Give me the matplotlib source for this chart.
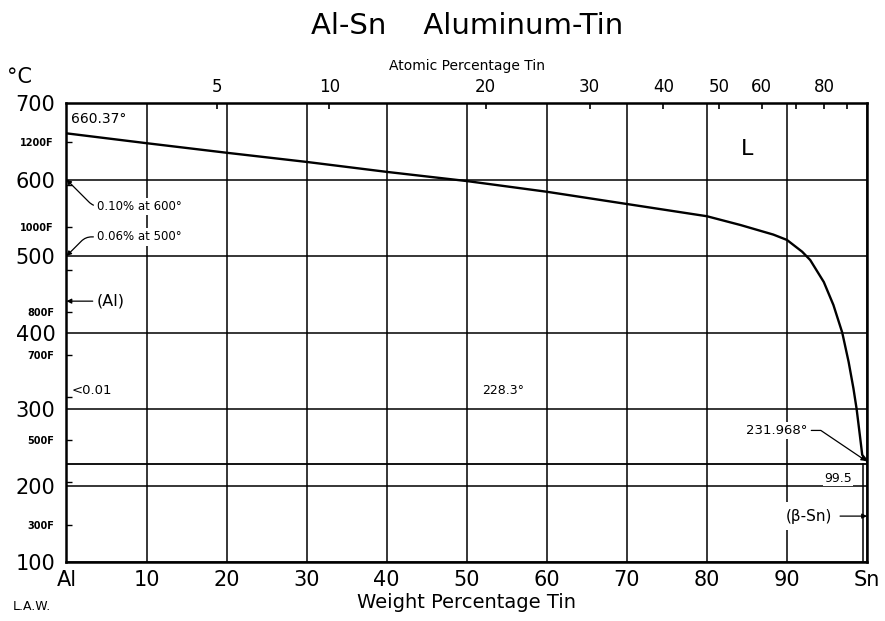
import numpy as np
import matplotlib
matplotlib.use('Agg')
import matplotlib.pyplot as plt

plt.rcParams['font.family'] = ['DejaVu Sans']

# Liquidus of the Al-Sn system (weight % Sn, deg C)
liq_wt = [0, 10, 20, 30, 40, 50, 60, 70, 80, 84.2, 88.3, 90, 91.9, 92.9, 94.6,
          95.8, 96.9, 97.7, 98.3, 98.7, 99.1, 99.4, 100]
liq_T = [660.37, 647.5, 635, 623, 610, 598, 584, 568, 552, 540.5, 528, 521, 505.6, 494.8, 466,
         436, 400, 361.6, 327, 300, 266, 240, 231.968]

eutectic_T = 228.3
eutectic_wt = [0, 100]
sn_solvus_wt = 99.5
al_melt = 660.37
sn_melt = 231.968

wt_ticks = [0, 10, 20, 30, 40, 50, 60, 70, 80, 90, 100]
wt_labels = ['Al', '10', '20', '30', '40', '50', '60', '70', '80', '90', 'Sn']
temp_ticks = [100, 200, 300, 400, 500, 600, 700]

at_ticks = [5, 10, 20, 30, 40, 50, 60, 70, 80, 90]
at_labels = ['5', '10', '20', '30', '40', '50', '60', '', '80', '']

f_ticks = [300, 400, 500, 600, 700, 800, 900, 1000, 1100, 1200]
f_labeled = [300, 500, 700, 800, 1000, 1200]

M_AL = 26.98
M_SN = 118.71


def wt_to_at(w):
    w = np.asarray(w, dtype=float)
    a = w / M_SN
    b = (100 - w) / M_AL
    return 100 * a / (a + b)


def at_to_wt(x):
    x = np.asarray(x, dtype=float)
    a = x * M_SN
    b = (100 - x) * M_AL
    return 100 * a / (a + b)


def c_to_f(c):
    return np.asarray(c, dtype=float) * 9 / 5 + 32


def f_to_c(f):
    return (np.asarray(f, dtype=float) - 32) * 5 / 9


fig = plt.figure(figsize=(8.85, 6.21), dpi=100)
ax = fig.add_axes([0.0751, 0.0950, 0.9046, 0.7391])

ax.set_xlim(0, 100)
ax.set_ylim(100, 700)
ax.set_xticks(wt_ticks)
ax.set_xticklabels(wt_labels)
ax.set_yticks(temp_ticks)
ax.tick_params(axis='both', length=0, labelsize=15)
ax.tick_params(axis='x', pad=6)
ax.tick_params(axis='y', pad=8)
ax.grid(True, color='black', lw=1.1)
for sp in ax.spines.values():
    sp.set_linewidth(1.8)

# phase boundaries
ax.plot(liq_wt, liq_T, color='black', lw=1.7, zorder=3)
ax.plot(eutectic_wt, [eutectic_T, eutectic_T], color='black', lw=1.3, zorder=3)
ax.plot([sn_solvus_wt, sn_solvus_wt], [eutectic_T, 100], color='black', lw=1.1, zorder=3)

# atomic percent scale on top
top = ax.secondary_xaxis('top', functions=(wt_to_at, at_to_wt))
top.set_xticks(at_ticks)
top.set_xticklabels(at_labels)
top.tick_params(direction='in', length=4, width=1.2, labelsize=12, pad=5)
top.set_xlabel('Atomic Percentage Tin', fontsize=10, labelpad=6)

# fahrenheit ticks on the left spine
fax = ax.secondary_yaxis('left', functions=(c_to_f, f_to_c))
fax.set_yticks(f_ticks)
fax.set_yticklabels([f'{f}F' if f in f_labeled else '' for f in f_ticks],
                    fontsize=7, fontweight='bold')
fax.tick_params(direction='in', length=4, width=1.0, pad=9)
fax.spines['left'].set_visible(False)

ax.set_xlabel('Weight Percentage Tin', fontsize=14, labelpad=2)

fig.text(0.528, 0.958, 'Al-Sn    Aluminum-Tin', fontsize=21, ha='center', va='center')
fig.text(0.008, 0.876, '°C', fontsize=15, ha='left', va='center')
fig.text(0.014, 0.024, 'L.A.W.', fontsize=9, ha='left', va='center')

white = dict(facecolor='white', edgecolor='none', pad=1.5)

ax.text(0.6, 679, f'{al_melt:.2f}°', fontsize=10, ha='left', va='center')
ax.text(85.0, 640, 'L', fontsize=16, ha='center', va='center')
ax.text(0.6, 324, '<0.01', fontsize=9.5, ha='left', va='center')
ax.text(51.9, 324, f'{eutectic_T}°', fontsize=9, ha='left', va='center')

arrow = dict(arrowstyle='-|>', color='black', lw=0.9, mutation_scale=7, shrinkA=1, shrinkB=0)

ax.annotate('0.10% at 600°', xy=(0, 600), xytext=(3.8, 565), fontsize=8.5,
            ha='left', va='center', bbox=white,
            arrowprops=dict(arrow, connectionstyle='angle,angleA=180,angleB=-45,rad=6'))
ax.annotate('0.06% at 500°', xy=(0, 500), xytext=(3.8, 525), fontsize=8.5,
            ha='left', va='center', bbox=white,
            arrowprops=dict(arrow, connectionstyle='angle,angleA=180,angleB=45,rad=6'))
ax.annotate('(Al)', xy=(0, 441), xytext=(3.8, 441), fontsize=11.5,
            ha='left', va='center', arrowprops=arrow)
ax.annotate(f'{sn_melt}°', xy=(99.9, sn_melt), xytext=(92.6, 272), fontsize=9.5,
            ha='right', va='center', bbox=white,
            arrowprops=dict(arrow, connectionstyle='angle,angleA=0,angleB=-34,rad=0'))
ax.text(sn_solvus_wt - 1.4, 200.5, f'{sn_solvus_wt}', fontsize=9, ha='right', va='bottom',
        bbox=dict(facecolor='white', edgecolor='none', pad=0.8))
ax.annotate('(β-Sn)', xy=(100, 160), xytext=(95.6, 160), fontsize=11,
            ha='right', va='center', bbox=dict(facecolor='white', edgecolor='none', pad=5),
            arrowprops=arrow)

fig.savefig('out.png', dpi=100)
